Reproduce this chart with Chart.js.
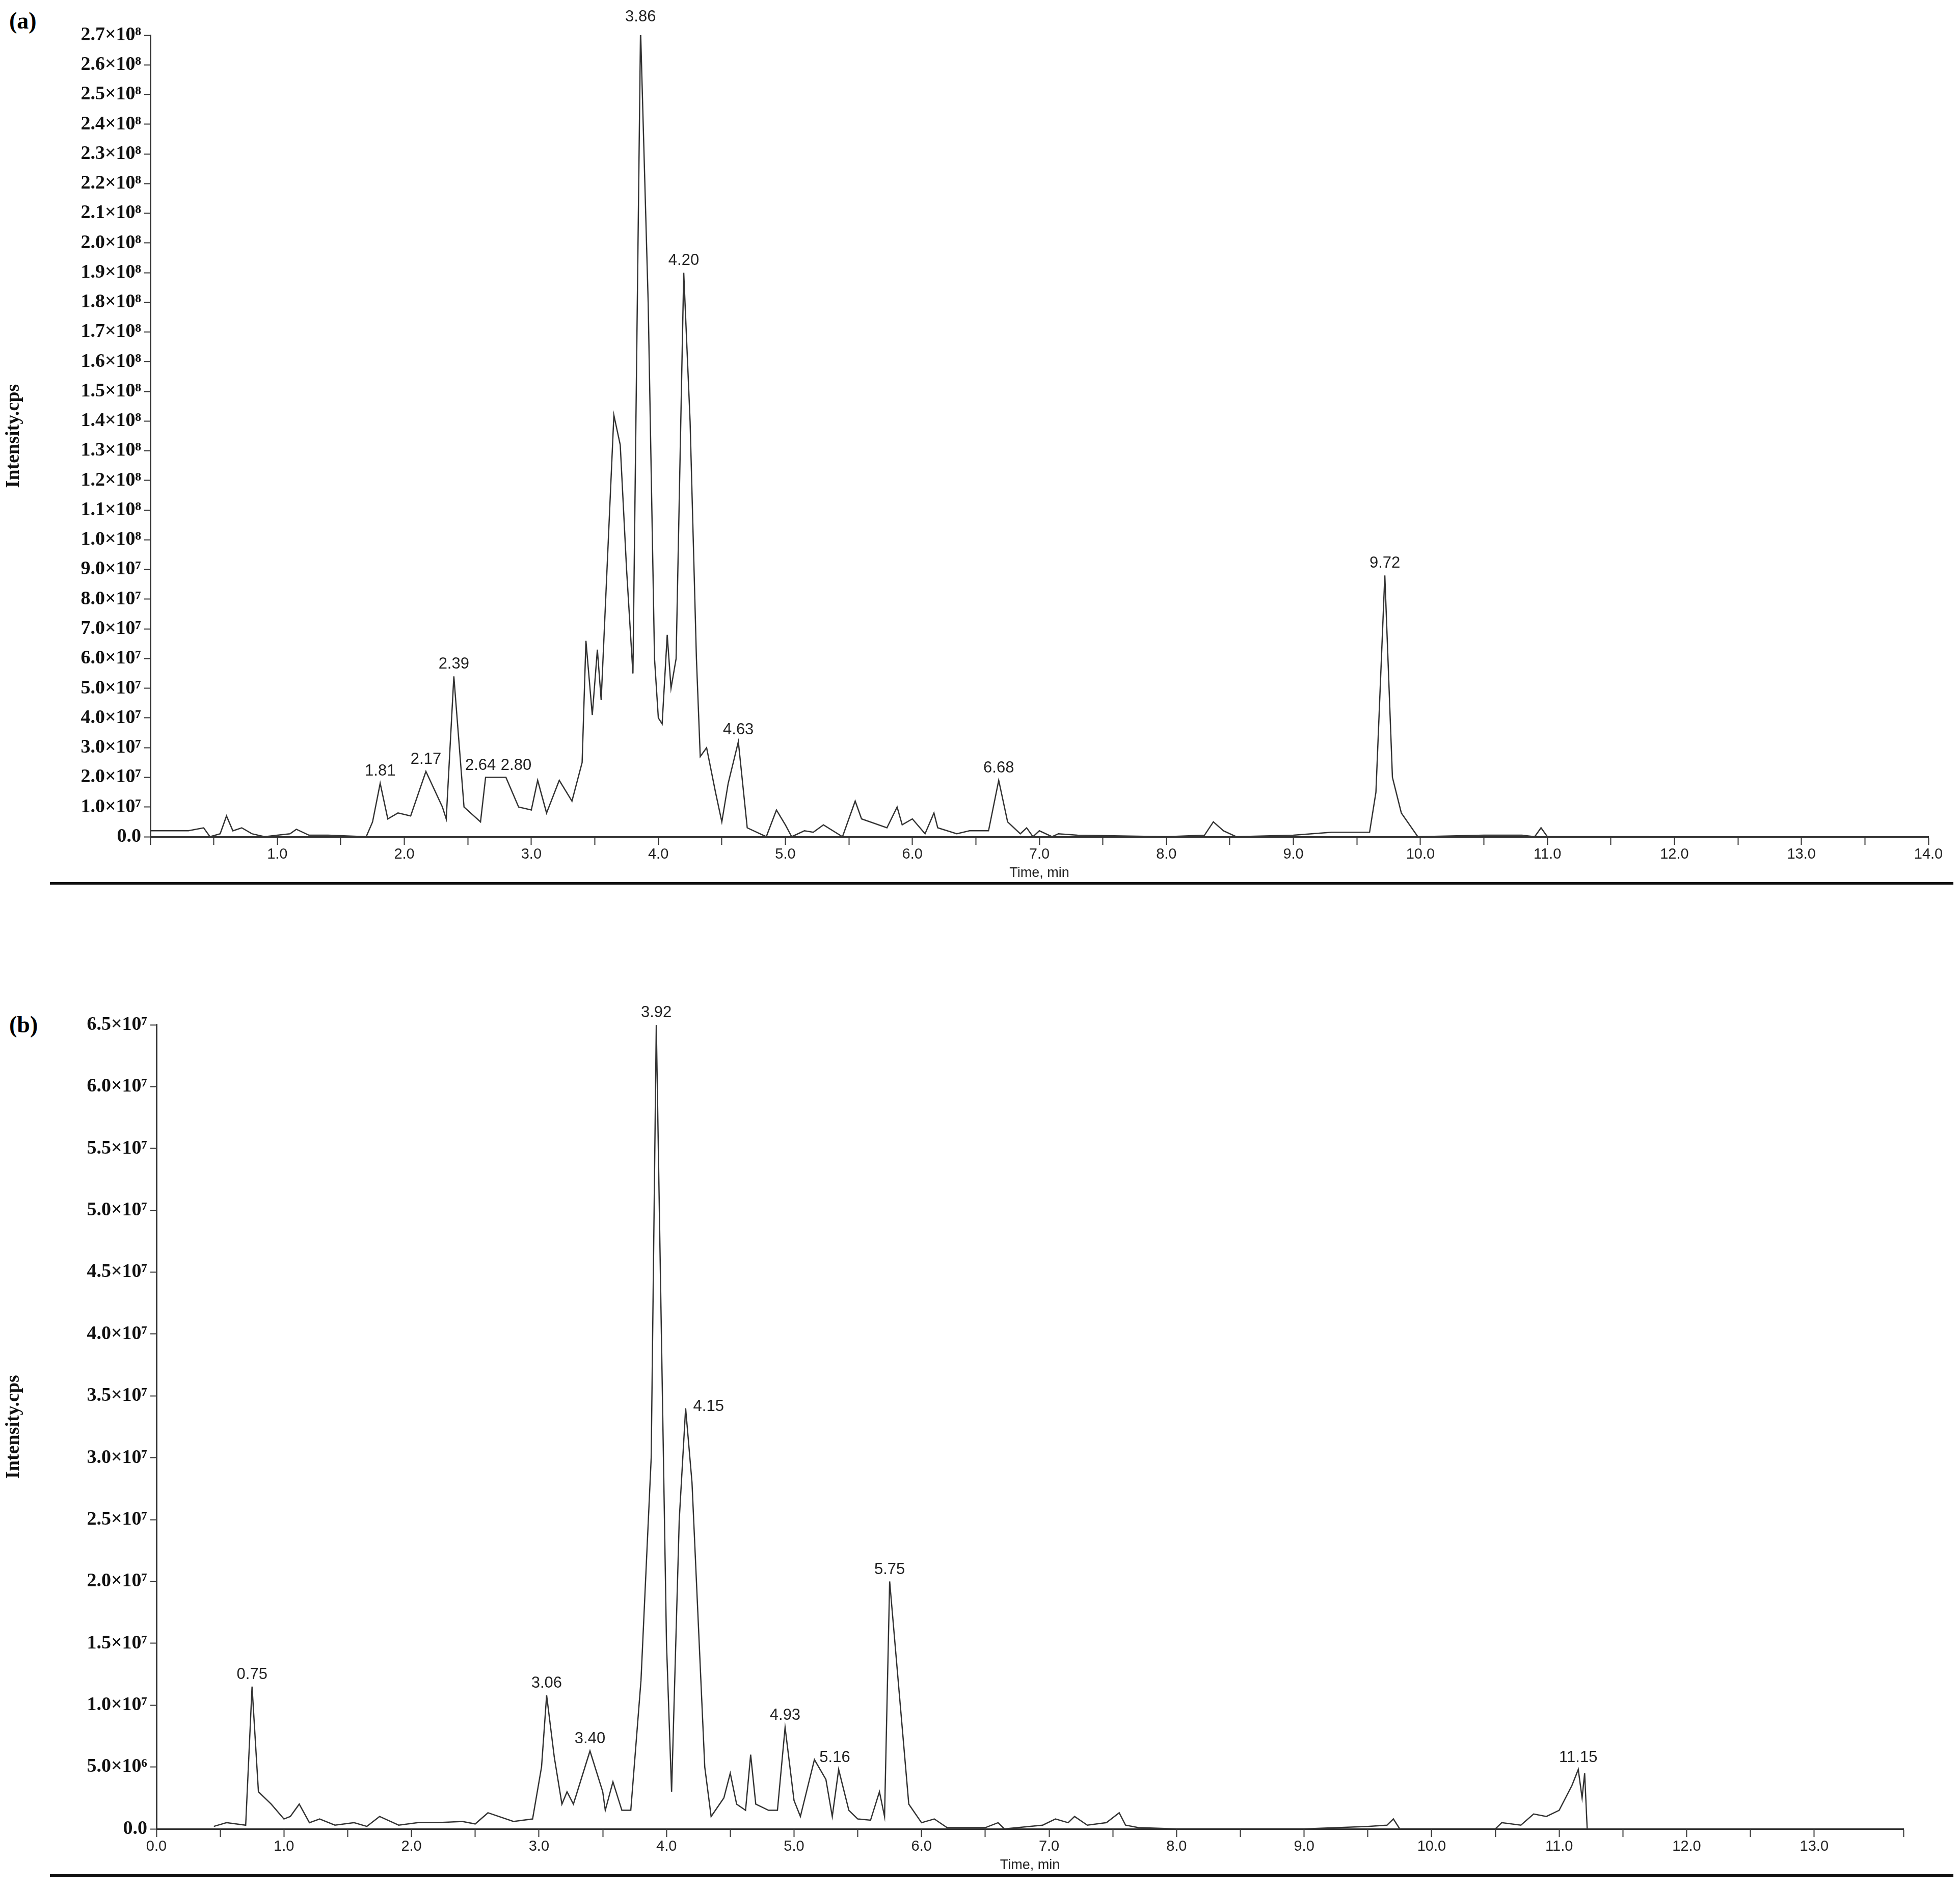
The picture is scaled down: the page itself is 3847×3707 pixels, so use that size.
<!DOCTYPE html>
<html>
<head>
<meta charset="utf-8">
<script src="https://cdn.jsdelivr.net/npm/chart.js@4/dist/chart.umd.min.js"></script>
<style>
  body { margin: 0; background: #fff; width: 3847px; height: 3707px; position: relative; overflow: hidden; }
  .box { position: absolute; left: 0; width: 3847px; }
  .rule { position: absolute; left: 98px; width: 3736px; height: 5px; background: #111; }
  .tag { position: absolute; left: 18px; font: bold 46px "Liberation Serif", serif; }
</style>
</head>
<body>
<div class="tag" style="top:14px">(a)</div>
<div class="tag" style="top:1984px">(b)</div>
<div class="box" style="top:0;height:1760px"><canvas id="chartA"></canvas></div>
<div class="box" style="top:1760px;height:1947px"><canvas id="chartB"></canvas></div>
<div class="rule" style="top:1731px"></div>
<div class="rule" style="top:3678px"></div>
<script>
// panel (a): time (min) and intensity (x1e7 cps)
const timeA = [0,0.3,0.42,0.47,0.55,0.6,0.65,0.72,0.8,0.9,1.0,1.1,1.15,1.25,1.4,1.7,1.75,1.81,1.87,1.95,2.05,2.17,2.3,2.33,2.39,2.47,2.6,2.64,2.72,2.8,2.9,3.0,3.05,3.12,3.22,3.32,3.4,3.43,3.48,3.52,3.55,3.65,3.7,3.75,3.8,3.86,3.92,3.97,4.0,4.03,4.07,4.1,4.14,4.2,4.25,4.3,4.33,4.38,4.45,4.5,4.55,4.63,4.7,4.85,4.93,5.0,5.05,5.15,5.22,5.3,5.45,5.55,5.6,5.8,5.88,5.92,6.0,6.1,6.17,6.2,6.35,6.45,6.6,6.68,6.75,6.85,6.9,6.95,7.0,7.1,7.15,7.3,8.0,8.3,8.37,8.45,8.55,9.0,9.3,9.6,9.65,9.72,9.78,9.85,9.98,10.5,10.8,10.9,10.95,11.0,11.8];
const intA = [0.2,0.2,0.3,0,0.1,0.7,0.2,0.3,0.1,0,0.05,0.1,0.25,0.05,0.05,0,0.5,1.8,0.6,0.8,0.7,2.2,1.0,0.6,5.4,1.0,0.5,2.0,2.0,2.0,1.0,0.9,1.9,0.8,1.9,1.2,2.5,6.6,4.1,6.3,4.6,14.2,13.2,9.0,5.5,27.2,18,6.0,4.0,3.8,6.8,5.0,6.0,19.0,14,6.0,2.7,3.0,1.5,0.5,1.8,3.2,0.3,0,0.9,0.4,0,0.2,0.15,0.4,0,1.2,0.6,0.3,1.0,0.4,0.6,0.1,0.8,0.3,0.1,0.2,0.2,1.9,0.5,0.1,0.3,0,0.2,0,0.1,0.05,0,0.05,0.5,0.2,0,0.05,0.15,0.15,1.5,8.8,2.0,0.8,0,0.05,0.05,0,0.3,0,0];
const peaksA = ['1.81','2.17','2.39','2.64','2.80','3.86','4.20','4.63','6.68','9.72'];
const peakTimesA = [1.81,2.17,2.39,2.64,2.80,3.86,4.20,4.63,6.68,9.72];
const peakShiftA = [0,0,0,-10,20,0,0,0,0,0];

// panel (b): time (min) and intensity (x1e6 cps)
const timeB = [0.45,0.55,0.7,0.75,0.8,0.9,1.0,1.05,1.12,1.2,1.28,1.4,1.55,1.65,1.75,1.9,2.05,2.2,2.4,2.5,2.6,2.8,2.95,3.02,3.06,3.12,3.18,3.22,3.27,3.4,3.5,3.52,3.58,3.65,3.72,3.8,3.88,3.92,3.96,4.0,4.04,4.1,4.15,4.2,4.3,4.35,4.45,4.5,4.55,4.62,4.66,4.7,4.8,4.87,4.93,5.0,5.05,5.16,5.25,5.3,5.35,5.43,5.5,5.6,5.67,5.71,5.75,5.85,5.9,6.0,6.1,6.2,6.5,6.6,6.65,6.95,7.05,7.15,7.2,7.3,7.45,7.55,7.6,7.7,8.0,9.0,9.5,9.65,9.7,9.75,10.5,10.55,10.7,10.8,10.9,11.0,11.1,11.15,11.18,11.2,11.22];
const intB = [0.2,0.5,0.3,11.5,3,2,0.8,1.0,2.0,0.5,0.8,0.3,0.5,0.2,1.0,0.3,0.5,0.5,0.6,0.4,1.3,0.6,0.8,5,10.8,5.8,2,3,2,6.3,3,1.5,3.8,1.5,1.5,12,30,65,40,15,3,25,34,28,5,1,2.5,4.5,2,1.5,6,2,1.5,1.5,8.2,2.3,1.0,5.6,4,1,4.8,1.5,0.8,0.7,3,1,20,8,2,0.5,0.8,0.1,0.1,0.5,0,0.3,0.8,0.5,1.0,0.3,0.5,1.3,0.3,0.1,0,0,0.2,0.3,0.8,0,0,0.5,0.3,1.2,1.0,1.5,3.5,4.8,2.5,4.5,0];
const peaksB = ['0.75','3.06','3.40','3.92','4.15','4.93','5.16','5.75','11.15'];
const peakTimesB = [0.75,3.06,3.40,3.92,4.15,4.93,5.16,5.75,11.15];
const peakShiftB = [0,0,0,0,45,0,40,0,0];

const sup = { '6': '\u2076', '7': '\u2077', '8': '\u2078' };
function sci(v) {
  if (Math.abs(v) < 1) return '0.0';
  const e = Math.floor(Math.log10(v) + 1e-9);
  return (v / Math.pow(10, e)).toFixed(1) + '\u00d710' + sup[e];
}

const peakLabels = {
  id: 'peakLabels',
  afterDatasetsDraw(chart, args, opts) {
    const ctx = chart.ctx;
    const pts = chart.data.datasets[0].data;
    ctx.save();
    ctx.font = '31px "Liberation Sans", Arial, sans-serif';
    ctx.fillStyle = '#222';
    ctx.textAlign = 'center';
    ctx.textBaseline = 'bottom';
    opts.times.forEach((t, i) => {
      let best = pts[0];
      pts.forEach(p => { if (Math.abs(p.x - t) < Math.abs(best.x - t)) best = p; });
      const px = chart.scales.x.getPixelForValue(best.x);
      const py = chart.scales.y.getPixelForValue(best.y);
      const dx = opts.shift[i];
      ctx.fillText(opts.labels[i], px + dx, py - 8 + (dx > 30 ? 20 : 0));
    });
    ctx.restore();
  }
};

function makeChart(id, times, ints, scale, yMax, yStep, xMax, showZero, peakTimes, peakText, peakShift, pad) {
  new Chart(document.getElementById(id), {
    type: 'line',
    data: {
      datasets: [{
        data: times.map((t, i) => ({ x: t, y: ints[i] * scale })),
        borderColor: '#333',
        borderWidth: 2.5,
        pointRadius: 0,
        tension: 0,
        fill: false
      }]
    },
    options: {
      animation: false,
      responsive: true,
      maintainAspectRatio: false,
      layout: { padding: { top: pad.top, right: pad.right, left: 0, bottom: pad.bottom } },
      plugins: {
        legend: { display: false },
        tooltip: { enabled: false },
        peakLabels: { times: peakTimes, labels: peakText, shift: peakShift }
      },
      scales: {
        x: {
          type: 'linear', min: 0, max: xMax,
          border: { color: '#333', width: 3 },
          grid: { drawOnChartArea: false, tickLength: 16, tickWidth: 2, color: '#333' },
          ticks: {
            stepSize: 0.5, autoSkip: false, maxRotation: 0, padding: 2,
            color: '#222', font: { size: 29, family: '"Liberation Sans", Arial' },
            callback: v => (Math.abs(v - Math.round(v)) < 1e-6 && (v > 0 || showZero)) ? v.toFixed(1) : ''
          },
          title: { display: true, text: 'Time, min', color: '#222', padding: 0, font: { size: 27, family: '"Liberation Sans", Arial' } },
          afterFit: s => { s.height = 88; }
        },
        y: {
          min: 0, max: yMax,
          border: { color: '#333', width: 3 },
          grid: { drawOnChartArea: false, tickLength: 12, tickWidth: 2, color: '#333' },
          ticks: {
            stepSize: yStep, autoSkip: false, color: '#111', padding: 6,
            font: { size: 38, weight: 'bold', family: '"Liberation Serif", serif' },
            callback: v => sci(v)
          },
          title: { display: true, text: 'Intensity.cps', color: '#111', font: { size: 38, weight: 'bold', family: '"Liberation Serif", serif' } },
          afterFit: s => { s.width = pad.yw; }
        }
      }
    },
    plugins: [peakLabels]
  });
}

makeChart('chartA', timeA, intA, 1e7, 2.7e8, 1e7, 14, false, peakTimesA, peaksA, peakShiftA,
  { top: 69, right: 62, bottom: 30, yw: 295 });
makeChart('chartB', timeB, intB, 1e6, 6.5e7, 5e6, 13.7, true, peakTimesB, peaksB, peakShiftB,
  { top: 251, right: 111, bottom: 30, yw: 307 });
</script>
</body>
</html>
